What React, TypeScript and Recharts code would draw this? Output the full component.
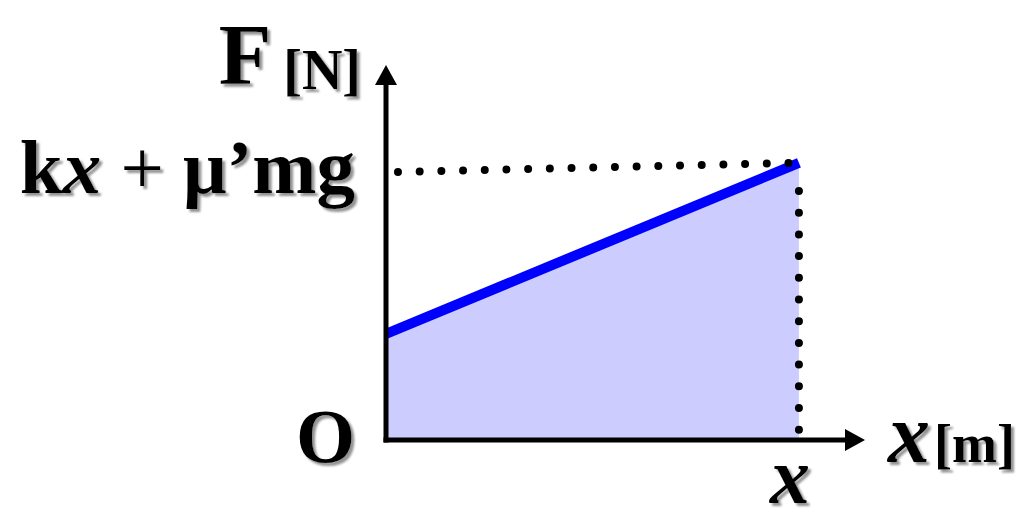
import { ComposedChart, Area, XAxis, YAxis, ReferenceLine, ReferenceDot } from 'recharts'

// displacement (x) and force (F), in relative units
const xValues = [0, 1]
const forceValues = [0.283, 0.739]
const xMax = 1.16
const yMax = 1

// tick labels on the axes
const yTickValues = [0, 0.739]
const yTickLabels = ['O', 'kx + μ’mg']
const xTickValues = [1]
const xTickLabels = ['x']

// dotted guides: horizontal one slopes a little, vertical one starts below the line
const hGuide = [
    { x: 0.029, y: 0.715 },
    { x: 1, y: 0.739 },
]
const vGuide = [
    { x: 1, y: 0.664 },
    { x: 1, y: 0 },
]

const data = xValues.map((x, i) => ({ x, f: forceValues[i] }))

const fontFamily = '"Liberation Serif", "Times New Roman", serif'
const textStyle = { fontFamily, fontWeight: 700, fill: '#000', filter: 'url(#textShadow)' }

const arrowShape = (props: any) => {
    const { x1, y1, x2, y2 } = props
    const dx = x2 - x1
    const dy = y2 - y1
    const len = Math.hypot(dx, dy)
    const ux = dx / len
    const uy = dy / len
    const head = 20
    const half = 11
    const bx = x2 - ux * head
    const by = y2 - uy * head
    return (
        <g>
            <line x1={x1} y1={y1} x2={bx} y2={by} stroke="#000" strokeWidth={5} strokeLinecap="square" />
            <polygon
                points={`${x2},${y2} ${bx - uy * half},${by + ux * half} ${bx + uy * half},${by - ux * half}`}
                fill="#000"
            />
        </g>
    )
}

const dottedShape = (props: any) => {
    const { x1, y1, x2, y2 } = props
    return (
        <line
            x1={x1} y1={y1} x2={x2} y2={y2}
            stroke="#000" strokeWidth={8} strokeLinecap="round" strokeDasharray="0 21.7"
        />
    )
}

const YTick = (props: any) => {
    const { x, y, payload } = props
    const idx = yTickValues.indexOf(payload.value)
    const label = yTickLabels[idx]
    if (idx === 0) {
        return (
            <text x={x - 31} y={y + 22} textAnchor="end" fontSize={76} {...textStyle}>{label}</text>
        )
    }
    return (
        <text x={x - 31} y={y + 30} textAnchor="end" fontSize={77} {...textStyle}>
            <tspan>k</tspan>
            <tspan fontStyle="italic">x</tspan>
            <tspan fontWeight={400}>{label.slice(2, 5)}</tspan>
            <tspan>{label.slice(5)}</tspan>
        </text>
    )
}

const XTick = (props: any) => {
    const { x, y, payload } = props
    const label = xTickLabels[xTickValues.indexOf(payload.value)]
    return (
        <text x={x - 9} y={y + 63} textAnchor="middle" fontSize={80} fontStyle="italic" {...textStyle}>{label}</text>
    )
}

const ForceTitle = (props: any) => {
    const { cx, cy } = props
    return (
        <text x={cx - 25} y={cy + 19} textAnchor="end" {...textStyle}>
            <tspan fontSize={86}>F</tspan>
            <tspan fontSize={56} dx={12} dy={5}>[N]</tspan>
        </text>
    )
}

const DispTitle = (props: any) => {
    const { cx, cy } = props
    return (
        <text x={cx + 23} y={cy + 22} textAnchor="start" {...textStyle}>
            <tspan fontSize={84} fontStyle="italic">x</tspan>
            <tspan fontSize={54} dx={4}>[m]</tspan>
        </text>
    )
}

export default function App() {
    return (
        <div style={{ position: 'absolute', left: 0, top: 0 }}>
            <ComposedChart
                width={1032}
                height={522}
                data={data}
                margin={{ top: 65, right: 167, left: 0, bottom: 0 }}
            >
                <defs>
                    <filter id="textShadow" x="-20%" y="-20%" width="140%" height="140%">
                        <feDropShadow dx={3} dy={3} stdDeviation={1.2} floodColor="#808080" floodOpacity={0.85} />
                    </filter>
                </defs>
                <XAxis
                    type="number"
                    dataKey="x"
                    domain={[0, xMax]}
                    ticks={xTickValues}
                    interval={0}
                    height={82}
                    axisLine={false}
                    tickLine={false}
                    tickSize={0}
                    tickMargin={0}
                    tick={<XTick />}
                />
                <YAxis
                    type="number"
                    domain={[0, yMax]}
                    ticks={yTickValues}
                    interval={0}
                    width={386}
                    axisLine={false}
                    tickLine={false}
                    tickSize={0}
                    tickMargin={0}
                    tick={<YTick />}
                />
                <ReferenceLine segment={[{ x: 0, y: 0 }, { x: xMax, y: 0 }]} shape={arrowShape} />
                <ReferenceLine segment={[{ x: 0, y: 0 }, { x: 0, y: yMax }]} shape={arrowShape} />
                <ReferenceLine segment={hGuide} shape={dottedShape} />
                <ReferenceLine segment={vGuide} shape={dottedShape} />
                <Area
                    type="linear"
                    dataKey="f"
                    stroke="#0000ff"
                    strokeWidth={10}
                    fill="#0000ff"
                    fillOpacity={0.2}
                    dot={false}
                    activeDot={false}
                    isAnimationActive={false}
                />
                <ReferenceDot x={0} y={yMax} r={0} shape={ForceTitle} />
                <ReferenceDot x={xMax} y={0} r={0} shape={DispTitle} />
            </ComposedChart>
        </div>
    )
}
